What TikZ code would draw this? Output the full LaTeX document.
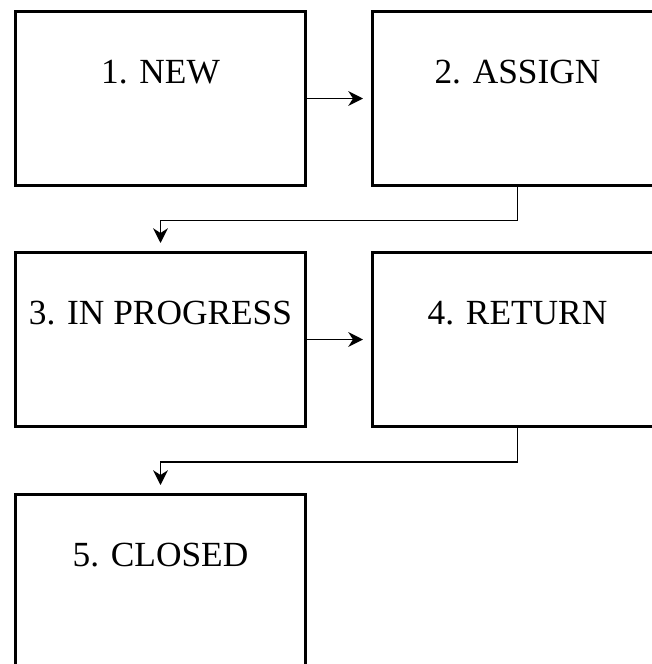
\documentclass[tikz,border=0pt]{standalone}
\usepackage{fontspec}
\setmainfont{Liberation Serif}
\usetikzlibrary{arrows.meta}

\tikzset{
  stepbox/.style={draw, line width=2.25pt, anchor=north west, minimum width=217.5pt, minimum height=130.5pt, inner sep=0pt},
  steptext/.style={inner sep=0.75pt, font=\fontsize{26.5}{31}\selectfont},
  link/.style={line width=1.4pt, -{Stealth[length=11pt,width=11pt,inset=3.5pt]}, shorten >=6pt}
}

\begin{document}
\begin{tikzpicture}[x=0.75pt,y=0.75pt,yscale=-1,xscale=1]
  \useasboundingbox (0,0) rectangle (652,664);
  \clip (0,0) rectangle (652,664);

  %Shape: boxes
  \node[stepbox] (new) at (14,10) {};
  \node[stepbox] (assign) at (371,10) {};
  \node[stepbox] (progress) at (14,251) {};
  \node[stepbox] (return) at (371,251) {};
  \node[stepbox] (closed) at (14,493) {};

  % Text Node
  \node[steptext] (newtext) at ([yshift=46.5pt]new.north) {1. NEW};
  % Text Node
  \node[steptext] (assigntext) at ([yshift=46.5pt]assign.north) {2. ASSIGN};
  % Text Node
  \node[steptext] (progresstext) at ([yshift=46.5pt]progress.north) {3. IN PROGRESS};
  % Text Node
  \node[steptext] (returntext) at ([yshift=46.5pt]return.north) {4. RETURN};
  % Text Node
  \node[steptext] (closedtext) at ([yshift=46.5pt]closed.north) {5. CLOSED};

  %Straight Lines
  \draw[link] (new.east) -- (assign.west);
  \draw[link] (progress.east) -- (return.west);
  \draw[link] (assign.south) -- ++(0,33.5) -| (progress.north);
  \draw[link] (return.south) -- ++(0,34) -| (closed.north);
\end{tikzpicture}
\end{document}
